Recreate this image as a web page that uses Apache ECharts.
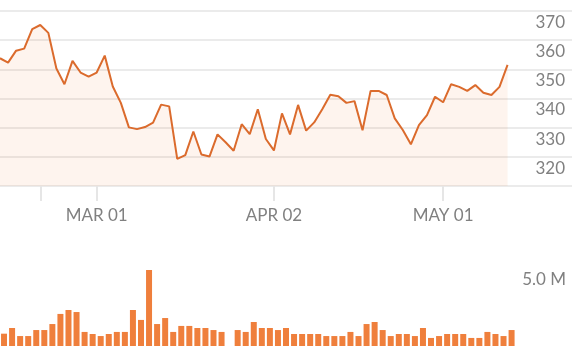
<!DOCTYPE html>
<html>
<head>
<meta charset="utf-8">
<script src="https://cdn.jsdelivr.net/npm/echarts@6/dist/echarts.min.js"></script>
<style>
html,body{margin:0;padding:0;background:#fff;}
#chart{width:572px;height:356px;}
</style>
</head>
<body>
<div id="chart"></div>
<script>
// Daily closing prices (64 trading days)
var prices = [353.8, 352.3, 356.4, 357.1, 363.8, 365.2, 362.5, 350.3, 344.9, 352.9,
  348.9, 347.5, 348.9, 354.7, 344.1, 338.5, 330.1, 329.5, 330.2, 331.7,
  337.9, 337.3, 319.3, 320.6, 328.7, 320.8, 320.1, 327.7, 325.0, 322.1,
  331.2, 327.8, 336.3, 326.1, 322.2, 334.9, 327.7, 337.8, 329.0, 331.8,
  336.3, 341.3, 340.8, 338.5, 339.1, 329.1, 342.6, 342.6, 341.2, 333.2,
  329.2, 324.3, 330.9, 334.3, 340.6, 338.7, 344.9, 344.0, 342.6, 344.6,
  342.0, 341.2, 344.0, 351.5];
// Daily volume, millions
var volumes = [0.78, 1.14, 0.63, 0.63, 1.01, 1.01, 1.39, 2.03, 2.28, 2.15,
  0.89, 0.76, 0.63, 0.76, 0.89, 0.89, 2.28, 1.65, 4.81, 1.39,
  1.77, 0.89, 1.27, 1.27, 1.14, 1.14, 1.01, 0.89, null, 1.01,
  0.89, 1.52, 1.14, 1.14, 1.01, 1.14, 0.76, 0.76, 0.76, 0.76,
  0.63, 0.63, 0.63, 0.89, 0.63, 1.39, 1.52, 1.01, 0.63, 0.76,
  0.76, 0.63, 1.14, 0.51, 0.63, 0.76, 0.76, 0.76, 0.51, 0.51,
  0.89, 0.76, 0.63, 1.01];
// x tick marks (day index) and labelled ticks
var tickIndex = [5, 12, 34, 55];
var tickLabelIndex = [12, 34, 55];
var tickLabels = ['MAR 01', 'APR 02', 'MAY 01'];
// price axis
var priceMin = 310, priceMax = 370, priceStep = 10;
var volMax = 5;

var nPrice = 72, nVol = 71;
var priceCats = [], volCats = [];
for (var i = 0; i < nPrice; i++) {
  var k = tickLabelIndex.indexOf(i);
  priceCats.push(k >= 0 ? tickLabels[k] : String(i));
}
for (var j = 0; j < nVol; j++) volCats.push(String(j));
var priceData = priceCats.map(function (c, i) { return i < prices.length ? prices[i] : '-'; });
var volData = volCats.map(function (c, i) { return i < volumes.length ? (volumes[i] == null ? '-' : volumes[i]) : '-'; });

var textColor = '#808080';
var font = 'Lato';
var chart = echarts.init(document.getElementById('chart'), null, {renderer: 'canvas'});
chart.setOption({
  animation: false,
  grid: [
    {left: 0, right: -2, top: 11, bottom: 170},
    {left: -1, right: 0, top: 267, bottom: 10}
  ],
  xAxis: [
    {
      type: 'category', gridIndex: 0, data: priceCats, boundaryGap: false,
      axisLine: {show: false},
      axisTick: {show: true, length: 15, lineStyle: {color: '#e6e6e6', width: 2},
        interval: function (i) { return tickIndex.indexOf(i) >= 0; }},
      axisLabel: {show: true, color: textColor, fontFamily: font, fontSize: 17, margin: 21,
        interval: function (i) { return tickLabelIndex.indexOf(i) >= 0; }},
      splitLine: {show: false}
    },
    {
      type: 'category', gridIndex: 1, data: volCats, boundaryGap: true,
      axisLine: {show: false}, axisTick: {show: false}, axisLabel: {show: false}, splitLine: {show: false}
    }
  ],
  yAxis: [
    {
      type: 'value', gridIndex: 0, position: 'right', min: priceMin, max: priceMax, interval: priceStep,
      axisLine: {show: false}, axisTick: {show: false},
      splitLine: {show: true, lineStyle: {color: '#ebebeb', width: 2}},
      axisLabel: {inside: true, margin: 7, color: textColor, fontFamily: font, fontSize: 17,
        verticalAlign: 'top', padding: [3, 0, 0, 0], showMinLabel: false, showMaxLabel: true}
    },
    {
      type: 'value', gridIndex: 1, position: 'right', min: 0, max: volMax, interval: volMax,
      axisLine: {show: false}, axisTick: {show: false}, splitLine: {show: false},
      axisLabel: {inside: true, margin: 6, color: textColor, fontFamily: font, fontSize: 17,
        verticalAlign: 'top', padding: [4, 0, 0, 0], showMinLabel: false, showMaxLabel: true,
        formatter: function (v) { return v.toFixed(1) + ' M'; }}
    }
  ],
  series: [
    {
      type: 'line', xAxisIndex: 0, yAxisIndex: 0, data: priceData, symbol: 'none', smooth: false,
      lineStyle: {color: '#db6b2d', width: 2},
      areaStyle: {color: 'rgba(240,128,60,0.12)'}
    },
    {
      type: 'bar', xAxisIndex: 1, yAxisIndex: 1, data: volData, barWidth: 6,
      itemStyle: {color: '#ef7f3c'}
    }
  ]
});
</script>
</body>
</html>
